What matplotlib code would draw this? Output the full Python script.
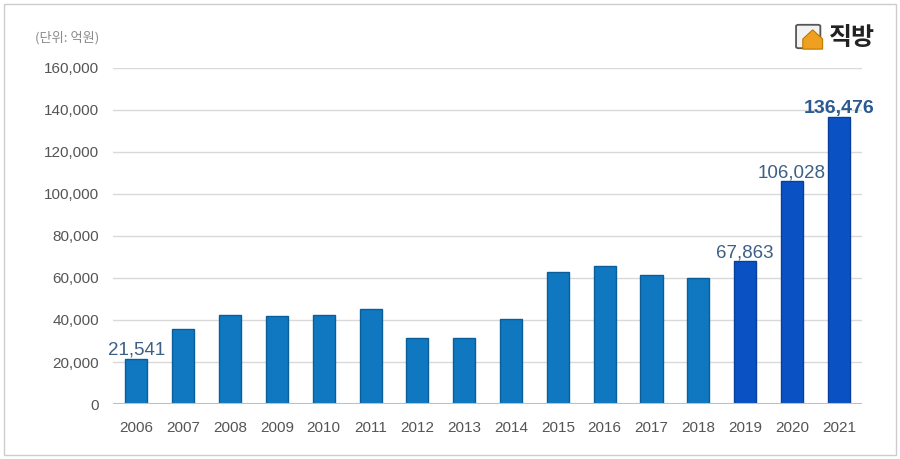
import matplotlib.pyplot as plt
from matplotlib.patches import Rectangle, FancyBboxPatch, Polygon
from matplotlib.ticker import FuncFormatter

years = [str(y) for y in range(2006, 2022)]
values = [21541, 35800, 42500, 42000, 42600, 45300, 31400, 31400,
          40700, 62800, 65500, 61500, 60000, 67863, 106028, 136476]
labeled = {'2006': 21541, '2019': 67863, '2020': 106028, '2021': 136476}
unit_text = '(단위: 억원)'
logo_text = '직방'

plt.rcParams['font.family'] = ['Liberation Sans', 'Noto Sans CJK KR', 'DejaVu Sans']

fig = plt.figure(figsize=(9, 4.59), dpi=100)
ax = fig.add_axes([0.1256, 0.1198, 0.8324, 0.7322])

colors = ['#0f78c0'] * 13 + ['#0a52c4'] * 3
edges = ['#0b5e99'] * 13 + ['#0a3f99'] * 3
x = list(range(len(years)))
ax.bar(x, values, width=0.47, color=colors, edgecolor=edges, linewidth=1.0, zorder=3)

ax.set_xlim(-0.5, len(years) - 0.5)
ax.set_ylim(0, 160000)
ax.set_yticks(range(0, 160001, 20000))
ax.yaxis.set_major_formatter(FuncFormatter(lambda v, p: f'{int(v):,}'))
ax.set_xticks(x)
ax.set_xticklabels(years)
ax.grid(axis='y', color='#d9d9d9', linewidth=1.0, zorder=0)
for s in ax.spines.values():
    s.set_visible(False)
ax.axhline(0, color='#9fc7e8', linewidth=1.5, zorder=4)
ax.tick_params(axis='both', length=0, labelsize=11, labelcolor='#555555')
ax.tick_params(axis='y', pad=10)
ax.tick_params(axis='x', pad=12)

for yr, v in labeled.items():
    i = years.index(yr)
    bold = yr == '2021'
    ax.annotate(f'{v:,}', (i, v), xytext=(0, 0), textcoords='offset points',
                ha='center', va='bottom', fontsize=14 if bold else 13.5,
                fontweight='bold' if bold else 'normal',
                color='#2a5a91' if bold else '#3d5f85', zorder=5)

# unit label and logo
fig.text(0.039, 0.918, unit_text, fontsize=9.5, color='#8a8a8a',
         family=['Noto Sans CJK KR', 'DejaVu Sans'], va='center')
fig.text(0.921, 0.918, logo_text, fontsize=18, fontweight='bold', color='#222222',
         family=['Noto Sans CJK KR', 'DejaVu Sans'], va='center')
fig.patches.append(FancyBboxPatch((0.8875, 0.898), 0.021, 0.045,
                                  boxstyle='round,pad=0.003', transform=fig.transFigure,
                                  facecolor='#f2f2f2', edgecolor='#555555', linewidth=1.3))
fig.patches.append(Polygon([(0.892, 0.893), (0.892, 0.915), (0.903, 0.935),
                            (0.914, 0.915), (0.914, 0.893)], closed=True,
                           transform=fig.transFigure, facecolor='#f0a020',
                           edgecolor='#c07800', linewidth=0.8))

# outer frame
fig.patches.append(Rectangle((0.004, 0.008), 0.991, 0.984, transform=fig.transFigure,
                             fill=False, edgecolor='#cccccc', linewidth=1.0))

fig.savefig('out.png', dpi=100)
